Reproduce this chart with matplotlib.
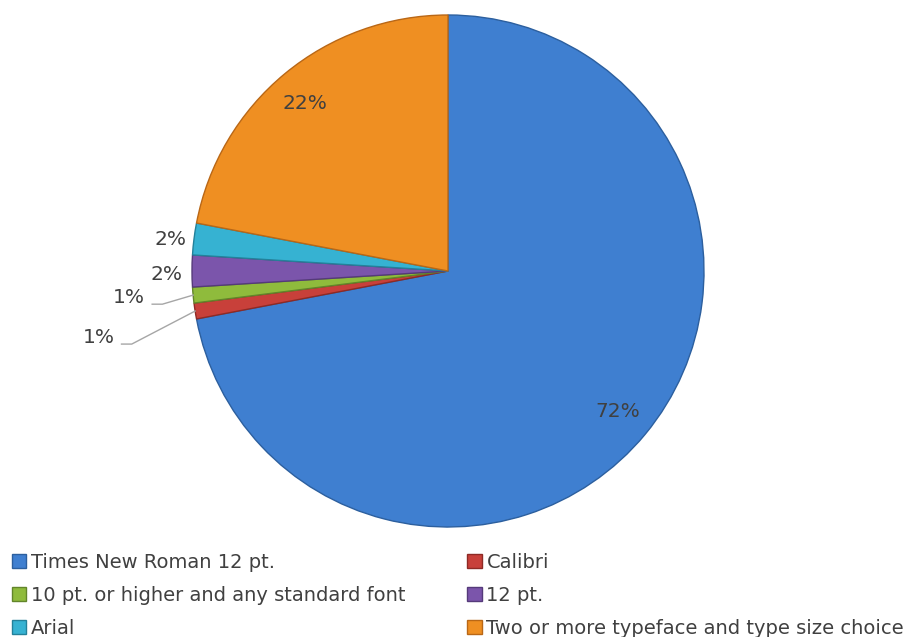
import numpy as np
import matplotlib
matplotlib.use("Agg")
import matplotlib.pyplot as plt
from matplotlib.patches import Patch

plt.rcParams['font.family'] = ['DejaVu Sans']

categories = ["Times New Roman 12 pt.", "Calibri",
              "10 pt. or higher and any standard font", "12 pt.",
              "Arial", "Two or more typeface and type size choice"]
shares = [72, 1, 1, 2, 2, 22]
pct_labels = ["72%", "1%", "1%", "2%", "2%", "22%"]

colors = ["#3f7fd0", "#c8403a", "#8fbb3c", "#7b55ab", "#36b2d2", "#ef8f22"]
edges = ["#2c5f9e", "#8e2a25", "#62852a", "#553a7a", "#23819a", "#b96716"]
# label placement: radius (in pie radii) and angle offset (deg) for each slice
label_r = [0.86, 1.39, 1.25, 1.10, 1.09, 0.86]
label_dtheta = [0, 1.8, -0.6, 0.8, 0.8, 1.0]
leader = [False, True, True, False, False, False]

fig = plt.figure(figsize=(9.12, 6.37), dpi=100)
ax = fig.add_axes([192 / 912, 110 / 637, 512 / 912, 512 / 637])
wedges, _ = ax.pie(shares, colors=colors, startangle=90, counterclock=False,
                   radius=1.0, wedgeprops=dict(linewidth=1.0))
for w, ec in zip(wedges, edges):
    w.set_edgecolor(ec)
ax.set_xlim(-1, 1)
ax.set_ylim(-1, 1)
ax.set_aspect('equal')
ax.axis('off')

for w, lab, r, dt, ld in zip(wedges, pct_labels, label_r, label_dtheta, leader):
    mid = np.deg2rad((w.theta1 + w.theta2) / 2)
    ang = mid + np.deg2rad(dt)
    x, y = r * np.cos(ang), r * np.sin(ang)
    ax.text(x, y, lab, ha='center', va='center', fontsize=14.5,
            color='#404040', clip_on=False)
    if ld:
        ex, ey = 1.0 * np.cos(mid), 1.0 * np.sin(mid)
        x0 = x + 0.09
        x1 = x + 0.13
        ax.plot([x0, x1, ex], [y - 0.025, y - 0.025, ey], color='#a6a6a6',
                lw=1.0, clip_on=False)

handles = [Patch(facecolor=c, edgecolor=e) for c, e in zip(colors, edges)]
order = [0, 2, 4, 1, 3, 5]
fig.legend([handles[i] for i in order], [categories[i] for i in order],
           loc='upper left', bbox_to_anchor=(-0.002, 1 - 539 / 637), ncol=2,
           frameon=False, fontsize=14, labelcolor='#404040',
           handlelength=0.75, handleheight=0.75, handletextpad=0.25,
           columnspacing=3.15, labelspacing=0.73, borderaxespad=0.3)

fig.savefig("out.png", dpi=100)
